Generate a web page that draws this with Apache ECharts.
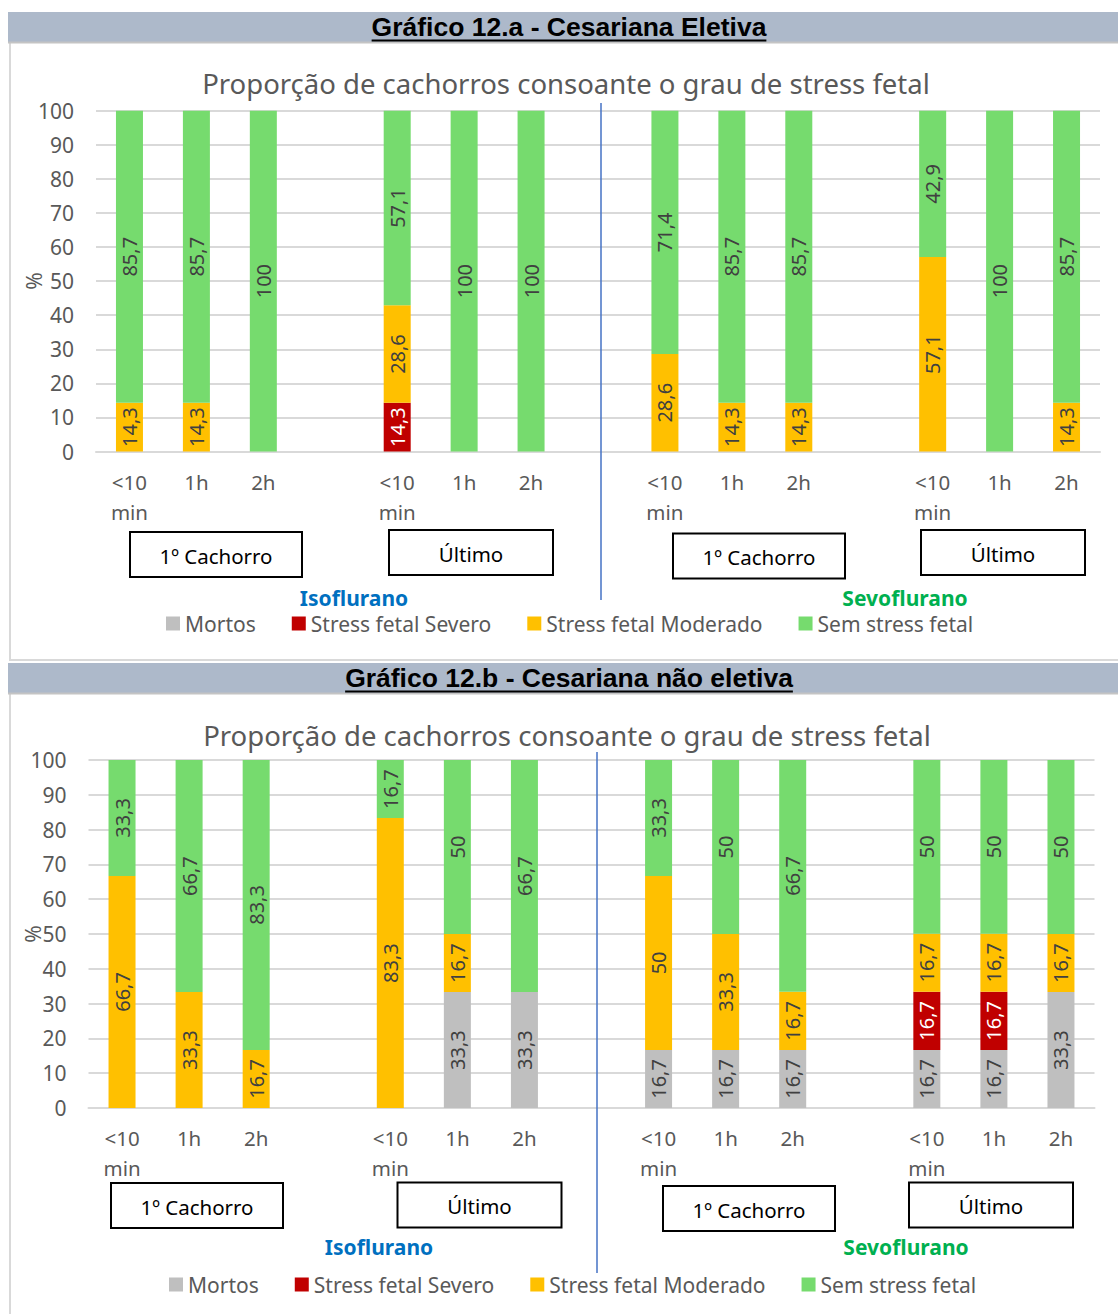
<!DOCTYPE html>
<html><head><meta charset="utf-8">
<script src="https://cdn.jsdelivr.net/npm/echarts@6/dist/echarts.min.js"></script>
<style>html,body{margin:0;padding:0;background:#fff;} #c{width:1118px;height:1314px;}</style>
</head><body><div id="c"></div>
<script>
// ---------- data ----------
const categories = ['<10\nmin','1h','2h','','<10\nmin','1h','2h','','<10\nmin','1h','2h','','<10\nmin','1h','2h'];
const seriesNames = ['Mortos','Stress fetal Severo','Stress fetal Moderado','Sem stress fetal'];
const yTicks = {min:0, max:100, step:10};

// Gráfico 12.a - Cesariana Eletiva
const a_mortos   = [null,null,null,null, null,null,null,null, null,null,null,null, null,null,null];
const a_severo   = [null,null,null,null, 14.3,null,null,null, null,null,null,null, null,null,null];
const a_moderado = [14.3,14.3,null,null, 28.6,null,null,null, 28.6,14.3,14.3,null, 57.1,null,14.3];
const a_sem      = [85.7,85.7,100,null, 57.1,100,100,null, 71.4,85.7,85.7,null, 42.9,100,85.7];

// Gráfico 12.b - Cesariana não eletiva
const b_mortos   = [null,null,null,null, null,33.3,33.3,null, 16.7,16.7,16.7,null, 16.7,16.7,33.3];
const b_severo   = [null,null,null,null, null,null,null,null, null,null,null,null, 16.7,16.7,null];
const b_moderado = [66.7,33.3,16.7,null, 83.3,16.7,null,null, 50,33.3,16.7,null, 16.7,16.7,16.7];
const b_sem      = [33.3,66.7,83.3,null, 16.7,50,66.7,null, 33.3,50,66.7,null, 50,50,50];

const headerA = 'Gráfico 12.a - Cesariana Eletiva';
const headerB = 'Gráfico 12.b - Cesariana não eletiva';
const chartTitle = 'Proporção de cachorros consoante o grau de stress fetal';
const groupBoxes = ['1º Cachorro','Último','1º Cachorro','Último'];
const drugs = ['Isoflurano','Sevoflurano'];

// ---------- styling ----------
const colors = ['#BFBFBF','#C00000','#FFC000','#76DB6E'];
const labelColors = ['#404040','#FFFFFF','#404040','#404040'];
const FONT = '"Noto Sans", "Open Sans", sans-serif';
const GREY = '#595959';

function fmt(p){ return String(p.value).replace('.', ','); }

function makeSeries(dataSets, idx){
  return dataSets.map((d,i)=>({
    name: seriesNames[i], type:'bar', stack: 's'+idx, xAxisIndex: idx, yAxisIndex: idx,
    data: d, barWidth: 27,
    itemStyle:{color: colors[i]},
    label:{show:true, position:'inside', rotate:90, formatter: fmt,
      fontSize:20, fontFamily: FONT, color: labelColors[i]}
  }));
}

function measure(text, font){
  const c = document.createElement('canvas').getContext('2d');
  c.font = font; return c.measureText(text).width;
}

const HFONT = 'bold 26.5px "Liberation Sans", Arial, sans-serif';
function header(y0, text){
  const w = measure(text, HFONT);
  return [
    {type:'rect', z:-9, shape:{x:8,y:y0,width:1120,height:30}, style:{fill:'#ADB9CA'}},
    {type:'line', z:-8, shape:{x1:8,y1:y0+30.5,x2:1118,y2:y0+30.5}, style:{stroke:'#C4C4C4', lineWidth:2}},
    {type:'text', z:5, style:{x:569, y:y0+15, text:text, font:HFONT, fill:'#000',
      align:'center', verticalAlign:'middle', textAlign:'center', textVerticalAlign:'middle'}},
    {type:'line', z:5, shape:{x1:569-w/2, y1:y0+28.5, x2:569+w/2, y2:y0+28.5}, style:{stroke:'#000', lineWidth:2}}
  ];
}
function box(cx, cy, w, h, text){
  return [
    {type:'rect', z:5, shape:{x:cx-w/2, y:cy-h/2, width:w, height:h}, style:{fill:'#fff', stroke:'#000', lineWidth:2}},
    {type:'text', z:6, style:{x:cx, y:cy+1, text:text, font:'20.5px '+FONT, fill:'#000',
      align:'center', verticalAlign:'middle', textAlign:'center', textVerticalAlign:'middle'}}
  ];
}
function txt(x, y, text, font, fill){
  return {type:'text', z:6, style:{x:x, y:y, text:text, font:font, fill:fill,
    align:'center', verticalAlign:'middle', textAlign:'center', textVerticalAlign:'middle'}};
}

const graphics = [].concat(
  [{type:'rect', z:-10, shape:{x:10,y:42,width:1120,height:618}, style:{fill:'#fff', stroke:'#D9D9D9', lineWidth:2}}],
  header(12, headerA),
  [txt(566, 83, chartTitle, '27.5px '+FONT, GREY)],
  [{type:'line', z:4, shape:{x1:601,y1:103,x2:601,y2:600}, style:{stroke:'#4472C4', lineWidth:1.5}}],
  box(216, 554.5, 172, 45, groupBoxes[0]),
  box(471, 552.5, 164, 45, groupBoxes[1]),
  box(759, 556, 172, 45, groupBoxes[2]),
  box(1003, 552.5, 164, 45, groupBoxes[3]),
  [txt(354, 598, drugs[0], 'bold 21px '+FONT, '#0070C0'), txt(905, 598, drugs[1], 'bold 21px '+FONT, '#00B050')],

  [{type:'rect', z:-10, shape:{x:10,y:693,width:1120,height:640}, style:{fill:'#fff', stroke:'#D9D9D9', lineWidth:2}}],
  header(663, headerB),
  [txt(567, 735, chartTitle, '27.5px '+FONT, GREY)],
  [{type:'line', z:4, shape:{x1:597,y1:752,x2:597,y2:1273}, style:{stroke:'#4472C4', lineWidth:1.5}}],
  box(197, 1205.5, 172, 45, groupBoxes[0]),
  box(479.5, 1205, 164, 45, groupBoxes[1]),
  box(749, 1208.5, 172, 45, groupBoxes[2]),
  box(991, 1205, 164, 45, groupBoxes[3]),
  [txt(379, 1247, drugs[0], 'bold 21px '+FONT, '#0070C0'), txt(906, 1247, drugs[1], 'bold 21px '+FONT, '#00B050')]
);

function xAx(i){
  return {type:'category', gridIndex:i, data:categories,
    axisTick:{show:false},
    axisLine:{lineStyle:{color:'#D9D9D9', width:2}},
    axisLabel:{interval:0, fontSize:20.5, fontFamily:FONT, color:GREY, lineHeight:30, margin:15}};
}
function yAx(i, gap){
  return {type:'value', gridIndex:i, min:yTicks.min, max:yTicks.max, interval:yTicks.step,
    axisLine:{show:false}, axisTick:{show:false},
    splitLine:{lineStyle:{color:'#D9D9D9', width:2}},
    axisLabel:{fontSize:21, fontFamily:FONT, color:GREY, margin:22},
    name:'%', nameLocation:'middle', nameRotate:90, nameGap:gap, nameMoveOverlap:false,
    nameTextStyle:{fontSize:21, fontFamily:FONT, color:GREY}};
}
function legend(left, top){
  return {data:seriesNames, left:left, top:top, icon:'rect', itemWidth:14, itemHeight:14,
    itemGap:36, selectedMode:false, textStyle:{fontSize:21, fontFamily:FONT, color:GREY}};
}

const chart = echarts.init(document.getElementById('c'), null, {renderer:'svg'});
chart.setOption({
  animation:false,
  backgroundColor:'#fff',
  grid:[{left:96, top:110.7, width:1004, height:340.8, containLabel:false, outerBoundsMode:'none'},
        {left:88.5, top:760, width:1006, height:348, containLabel:false, outerBoundsMode:'none'}],
  xAxis:[xAx(0), xAx(1)],
  yAxis:[yAx(0, 52), yAx(1, 45)],
  legend:[legend(161, 608), legend(164, 1269)],
  series:[].concat(makeSeries([a_mortos,a_severo,a_moderado,a_sem],0),
                   makeSeries([b_mortos,b_severo,b_moderado,b_sem],1)),
  graphic:{elements:graphics}
});
</script></body></html>
